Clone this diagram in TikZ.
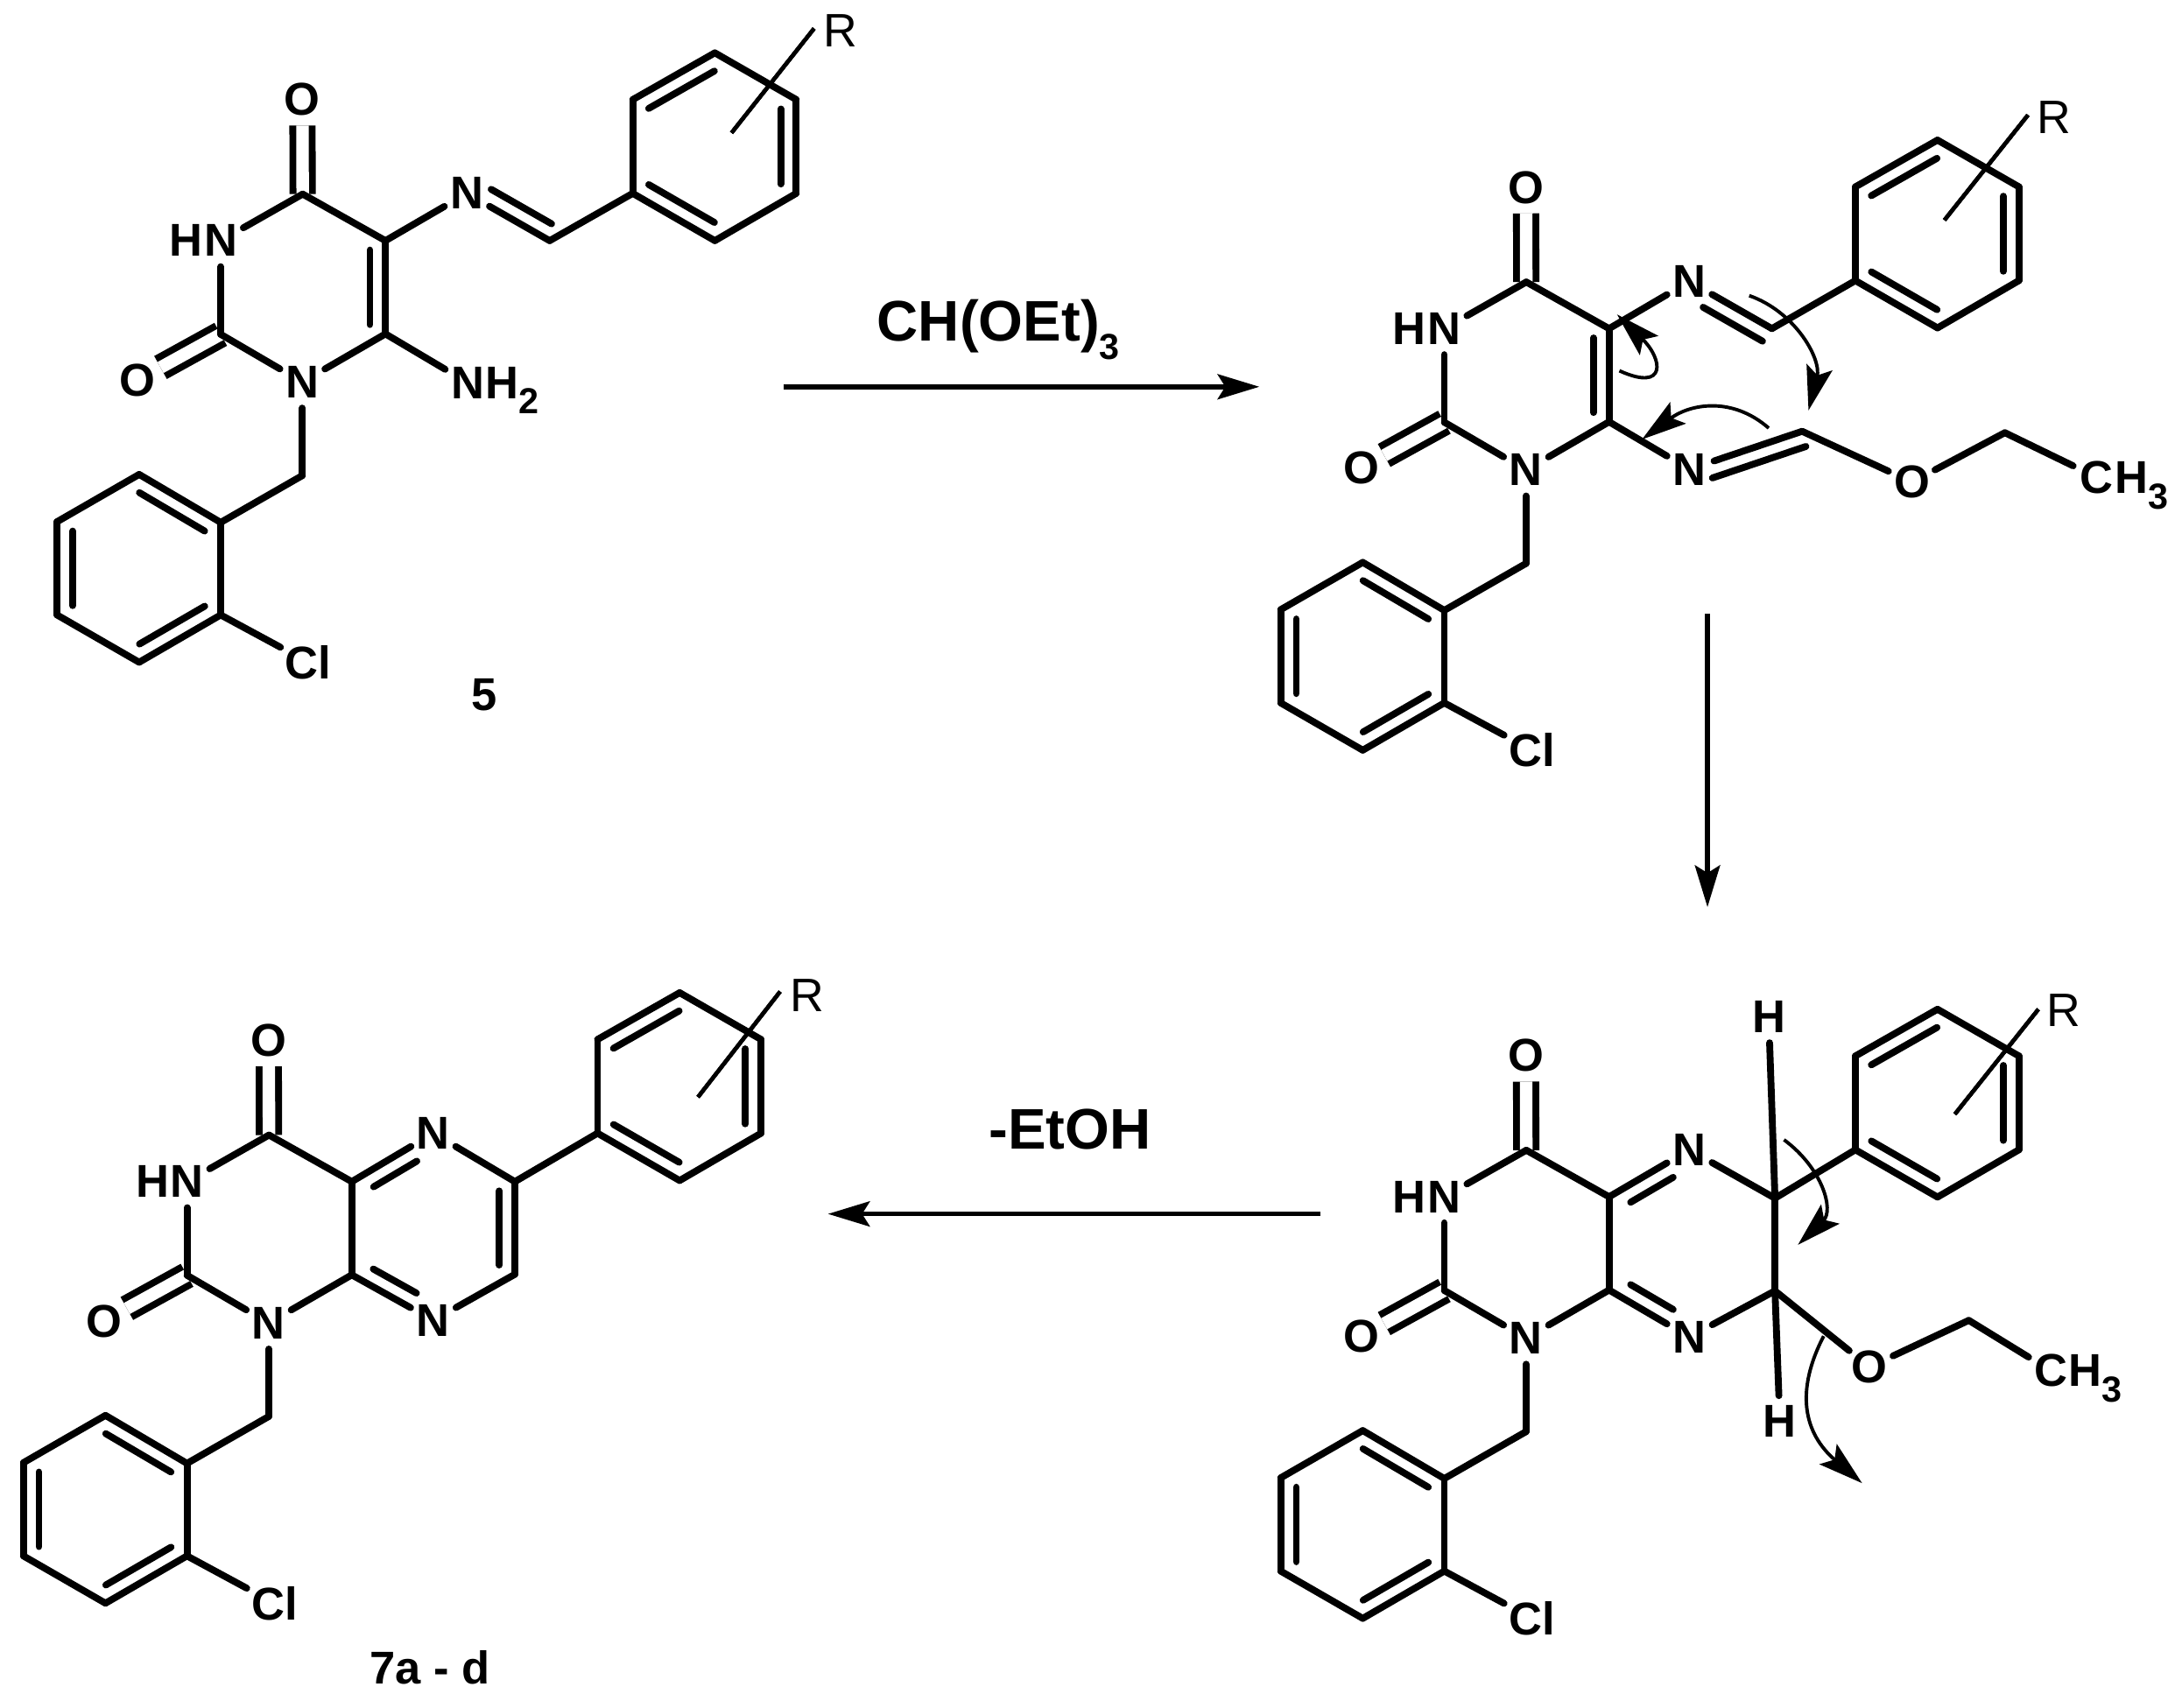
\documentclass[tikz,border=0pt]{standalone}
\usepackage{fontspec}
\setmainfont{Liberation Sans}
\usetikzlibrary{calc}
\usetikzlibrary{positioning}
\usetikzlibrary{arrows.meta}
\tikzset{
  atom/.style={circle,inner sep=0pt,minimum size=3.6mm,font=\bfseries\fontsize{9.4}{10}\selectfont},
  lab/.style={inner sep=0pt,font=\bfseries\fontsize{9.4}{10}\selectfont},
  rlab/.style={inner sep=0pt,font=\fontsize{9.6}{10}\selectfont},
  rxn/.style={inner sep=0pt,anchor=base,font=\bfseries\fontsize{11.7}{14}\selectfont},
  bond/.style={line width=1.4pt,line cap=round},
  dbl/.style={line width=1.4pt,double,double distance=.9mm},
  rsub/.style={line width=.8pt},
  curly/.style={line width=.7pt,-{Stealth[length=3.2mm,width=1.9mm,inset=.6mm]}},
  rarrow/.style={line width=1pt,-{Stealth[length=3mm,width=1.8mm,inset=.55mm]}}
}
\newcommand{\inbond}[4]{\draw[bond] ($(#1)!#3!(#2)!1.12mm!90:(#2)$) -- ($(#2)!#4!(#1)!1.12mm!-90:(#1)$);}
\newcommand{\dn}[2][3.2pt]{\raisebox{-#1}{\fontsize{7.4}{8}\selectfont #2}}
\begin{document}
\begin{tikzpicture}[x=.1mm,y=-.1mm]
  \useasboundingbox (0,0) rectangle (1568,1227.6);
  % uracil ring and 2-chlorobenzyl
  \foreach \m/\cx/\cy in {a/277/173, b/1156.3/236.2, c/1156.3/860.2, d/252.8/849.3} {
    \begin{scope}[shift={(\cx,\cy)}]
      \coordinate (c5\m) at (0,0);
      \coordinate (c6\m) at (0,67);
      \coordinate (c4\m) at (-59.5,-33.5);
      \coordinate (c2\m) at (-118.4,67.3);
      \coordinate (ch\m) at (-59.7,168.8);
      \coordinate (b1\m) at (-118.4,202.5);
      \coordinate (b2\m) at (-177,168);
      \coordinate (b3\m) at (-236,202);
      \coordinate (b4\m) at (-236,269);
      \coordinate (b5\m) at (-177,303);
      \coordinate (b6\m) at (-118.4,269);
      \node[atom] (o4\m) at (-59.7,-101.5) {O};
      \node[atom] (o2\m) at (-178,100.2) {O};
      \node[atom] (n3\m) at (-118.4,0) {N};
      \node[lab,base left=-.64mm of n3\m] (h3\m) {H};
      \node[atom] (n1\m) at (-59.7,101.6) {N};
      \node[atom,minimum size=4.4mm] (cl\m) at (-55.5,303) {Cl};
    \end{scope}
    \draw[dbl] (c4\m) -- (o4\m);
    \draw[dbl] (c2\m) -- (o2\m);
    \foreach \a/\b in {c4/n3, n3/c2, c2/n1, n1/c6, c4/c5, n1/ch, ch/b1, b1/b2, b2/b3, b3/b4, b4/b5, b5/b6, b6/b1, b6/cl}
      \draw[bond] (\a\m) -- (\b\m);
    \foreach \a/\b in {b1/b2, b3/b4, b5/b6}
      \inbond{\a\m}{\b\m}{.1}{.1}
    \draw[bond] (c5\m) -- (c6\m);
  }
  % phenyl with R
  \foreach \m/\px/\py/\ax/\ay/\bx/\by/\rx/\ry in {a/454.7/139/71/-43.5/130.3/-118.5/149.3/-117,
      b/1333.3/201.7/64/-43.5/124/-119/142.5/-117.5,
      c/1333.3/826.4/71.5/-25.6/131.5/-101/149.5/-100,
      d/429.4/814.5/72.2/-26/131.2/-101.8/150.6/-99} {
    \begin{scope}[shift={(\px,\py)}]
      \coordinate (p1\m) at (0,0);
      \coordinate (p2\m) at (0,-67.4);
      \coordinate (p3\m) at (59,-101);
      \coordinate (p4\m) at (117.5,-67.4);
      \coordinate (p5\m) at (117.5,0);
      \coordinate (p6\m) at (59,34);
      \coordinate (ra\m) at (\ax,\ay);
      \coordinate (rb\m) at (\bx,\by);
      \node[rlab] (r\m) at (\rx,\ry) {R};
    \end{scope}
    \foreach \a/\b in {p1/p2, p2/p3, p3/p4, p4/p5, p5/p6, p6/p1}
      \draw[bond] (\a\m) -- (\b\m);
    \foreach \a/\b in {p1/p6, p5/p4, p3/p2}
      \inbond{\a\m}{\b\m}{.1}{.1}
    \draw[rsub] (ra\m) -- (rb\m);
  }
  % compound 5
  \node[atom] (nia) at (335.5,139) {N};
  \coordinate (cia) at (395,173);
  \node[atom] (nha) at (336,275) {N};
  \node[lab,base right=-.64mm of nha] (h2a) {H\dn{2}};
  \foreach \a/\b in {c5a/nia, nia/cia, cia/p1a, c6a/nha}
    \draw[bond] (\a) -- (\b);
  \inbond{nia}{cia}{.2}{.07}
  \node[lab] (lab5) at (348,499.7) {5};
  % intermediate with ethoxy imine
  \node[atom] (nib) at (1214,202.3) {N};
  \coordinate (cib) at (1273.3,236.2);
  \node[atom] (nlb) at (1214,337.3) {N};
  \coordinate (cmb) at (1295,310);
  \node[atom] (oeb) at (1374,346.5) {O};
  \coordinate (ceb) at (1440.7,311);
  \node[atom] (cmeb) at (1506.6,343) {C};
  \node[lab,base right=-.64mm of cmeb] (h3eb) {H\dn{3}};
  \foreach \a/\b in {c5b/nib, nib/cib, cib/p1b, c6b/nlb, nlb/cmb, cmb/oeb, oeb/ceb, ceb/cmeb}
    \draw[bond] (\a) -- (\b);
  \inbond{cib}{nib}{.02}{.26}
  \inbond{cmb}{nlb}{.01}{.16}
  \inbond{c6b}{c5b}{.1}{.1}
  \inbond{c6a}{c5a}{.1}{.1}
  % cyclised intermediate
  \node[atom] (nuc) at (1214,826.4) {N};
  \node[atom] (nlc) at (1214,961) {N};
  \coordinate (cuc) at (1275.5,861.2);
  \coordinate (clc) at (1275.5,927.8);
  \node[atom] (htc) at (1271,730.8) {H};
  \node[atom] (hbc) at (1279,1021.8) {H};
  \node[atom] (oec) at (1343.4,982.5) {O};
  \coordinate (cec) at (1414.8,949);
  \node[atom] (cmec) at (1473.7,985.2) {C};
  \node[lab,base right=-.64mm of cmec] (h3ec) {H\dn{3}};
  \foreach \a/\b in {c5c/nuc, nuc/cuc, cuc/clc, clc/nlc, nlc/c6c, cuc/p1c, cuc/htc, clc/hbc, clc/oec, oec/cec, cec/cmec}
    \draw[bond] (\a) -- (\b);
  \inbond{nuc}{c5c}{.3}{.17}
  \inbond{c6c}{nlc}{.17}{.3}
  % product 7
  \node[atom] (nud) at (311.4,814.5) {N};
  \node[atom] (nld) at (311.4,949) {N};
  \coordinate (cud) at (370,849.3);
  \coordinate (cld) at (370,915.9);
  \foreach \a/\b in {c5d/nud, nud/cud, cud/cld, cld/nld, nld/c6d, cud/p1d}
    \draw[bond] (\a) -- (\b);
  \inbond{nud}{c5d}{.3}{.17}
  \inbond{c6d}{nld}{.17}{.3}
  \inbond{cld}{cud}{.1}{.1}
  \node[lab] (lab7) at (309,1198.6) {7a - d};
  % reaction arrows
  \coordinate (r1s) at (563,278);
  \coordinate (r1e) at (905,278);
  \coordinate (r2s) at (1227,441);
  \coordinate (r2e) at (1227,652);
  \coordinate (r3s) at (949,872.5);
  \coordinate (r3e) at (595,872.5);
  \draw[rarrow] (r1s) -- (r1e);
  \draw[rarrow] (r2s) -- (r2e);
  \draw[rarrow] (r3s) -- (r3e);
  \node[rxn] (rgt1) at (717.5,245) {CH(OEt)\dn[3.8pt]{3}};
  \node[rxn] (rgt2) at (769,826) {-EtOH};
  % electron arrows
  \coordinate (e1s) at (1163.7,266.5);
  \coordinate (e1e) at (1162,226);
  \coordinate (e2s) at (1257,212.5);
  \coordinate (e2e) at (1299.6,295);
  \coordinate (e3s) at (1271,307.7);
  \coordinate (e3e) at (1180,315.8);
  \coordinate (e4s) at (1282,819.2);
  \coordinate (e4e) at (1292,894.7);
  \coordinate (e5s) at (1310.5,960.3);
  \coordinate (e5e) at (1338.1,1066);
  \draw[curly] (e1s) .. controls (1198,282) and (1195,258) .. (e1e);
  \draw[curly] (e2s) .. controls (1290,224) and (1309,258) .. (e2e);
  \draw[curly] (e3s) .. controls (1245,285) and (1215,290) .. (e3e);
  \draw[curly] (e4s) .. controls (1310,840) and (1318,870) .. (e4e);
  \draw[curly] (e5s) .. controls (1290,1000) and (1296,1030) .. (e5e);
\end{tikzpicture}
\end{document}
